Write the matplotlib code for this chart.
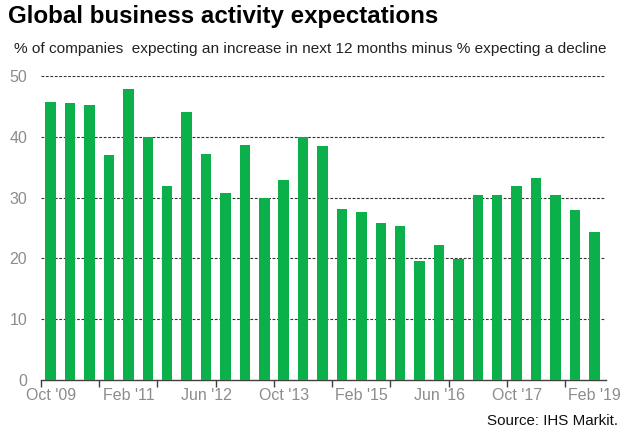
import numpy as np
import matplotlib.pyplot as plt

# ---------------------------
# Data
# ---------------------------
values = [45.8, 45.6, 45.2, 37.0, 47.9, 40.0, 31.9, 44.1, 37.2, 30.8,
          38.7, 29.9, 32.9, 40.0, 38.5, 28.1, 27.7, 25.8, 25.4, 19.5,
          22.2, 19.9, 30.5, 30.4, 31.9, 33.2, 30.4, 27.9, 24.3]
tick_labels = ["Oct '09", "Feb '11", "Jun '12", "Oct '13",
               "Feb '15", "Jun '16", "Oct '17", "Feb '19"]
yticks = [0, 10, 20, 30, 40, 50]

green = "#0BB04B"
grey = "#8C8C8C"

plt.rcParams['font.family'] = ['Liberation Sans', 'DejaVu Sans']

fig = plt.figure(figsize=(6.26, 4.38), dpi=100)
ax = fig.add_axes([0.0655, 0.1324, 0.9025, 0.6941])

x = np.arange(len(values))
ax.bar(x, values, width=0.54, color=green, zorder=3)

ax.set_ylim(0, 50)
ax.set_xlim(-0.5, 28.6)
ax.set_yticks(yticks)
ax.set_yticklabels([str(v) for v in yticks], color=grey, fontsize=11.5)
ax.tick_params(axis="y", length=0, pad=10)

# labels every 4 bars, tick marks every 3 bars between bars
ax.set_xticks(x[::4])
ax.set_xticklabels(tick_labels, color=grey, fontsize=11.5)
ax.set_xticks(np.arange(-0.5, len(values) - 1, 3), minor=True)
ax.tick_params(axis="x", which="major", length=0, pad=6)
ax.tick_params(axis="x", which="minor", length=5, width=1, color="#404040",
               direction="out")

for y in yticks[1:]:
    ax.axhline(y, color="#333333", lw=0.8, ls=(0, (2.5, 1.5)), zorder=1)

for s in ["top", "right", "left"]:
    ax.spines[s].set_visible(False)
ax.spines["bottom"].set_color("#404040")
ax.spines["bottom"].set_linewidth(1)

fig.text(0.013, 0.962, "Global business activity expectations",
         fontsize=17.4, fontweight="bold", ha="left", va="center")
fig.text(0.022, 0.888,
         "% of companies  expecting an increase in next 12 months minus % expecting a decline",
         fontsize=11.1, color="#222222", ha="left", va="center")
fig.text(0.988, 0.038, "Source: IHS Markit.", fontsize=10.9, color="#111111",
         ha="right", va="center")

fig.savefig("out.png", dpi=100)
